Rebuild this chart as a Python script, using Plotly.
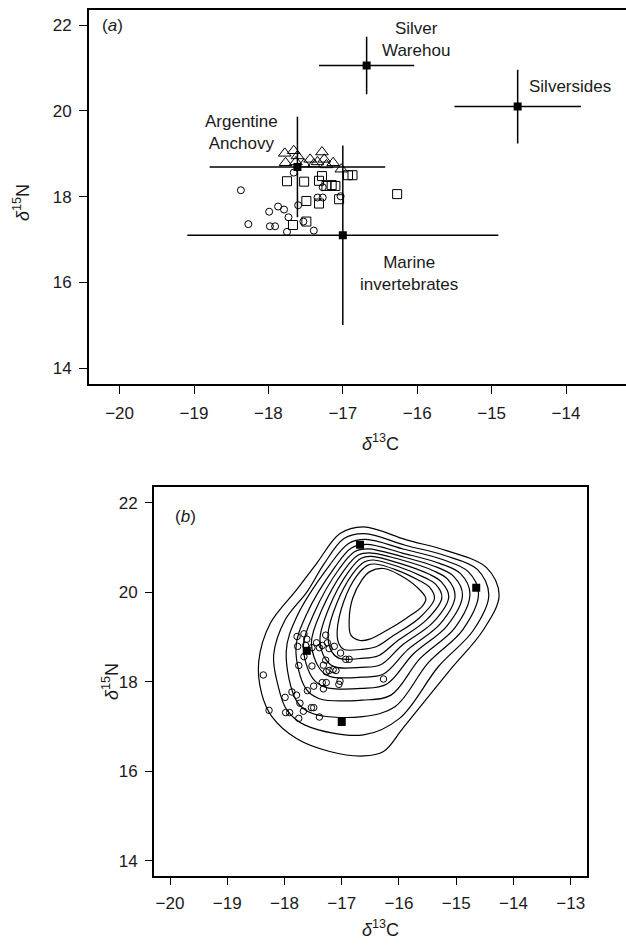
import plotly.graph_objects as go

# ---------------- data ----------------
# source means (filled squares) and their SD (cross bars)
src_names = ["Silver<br>Warehou", "Silversides", "Argentine<br>Anchovy", "Marine<br>invertebrates"]
src_d13c = [-16.68, -14.65, -17.61, -17.00]
src_d15n = [21.06, 20.10, 18.69, 17.10]
src_sd13c = [0.64, 0.85, 1.18, 2.09]
src_sd15n = [0.67, 0.86, 1.17, 2.09]

# consumers, three groups (panel a symbols)
tri_d13c = [-17.78, -17.66, -17.61, -17.77, -17.63, -17.52, -17.44, -17.39, -17.28, -17.25, -17.22, -17.13, -17.02, -17.34]
tri_d15n = [19.01, 19.07, 18.95, 18.79, 18.81, 18.76, 18.87, 18.76, 19.04, 18.87, 18.74, 18.79, 18.64, 18.81]
sq_d13c = [-17.75, -17.52, -17.32, -17.28, -17.22, -17.15, -17.10, -16.93, -16.87, -17.49, -17.32, -17.05, -17.67, -17.49, -16.27]
sq_d15n = [18.36, 18.35, 18.37, 18.48, 18.25, 18.27, 18.25, 18.50, 18.50, 17.90, 17.84, 17.94, 17.34, 17.42, 18.06]
circ_d13c = [-18.37, -18.27, -17.99, -17.87, -17.79, -17.73, -17.98, -17.91, -17.75, -17.66, -17.60, -17.53, -17.39, -17.34, -17.27, -17.27, -17.03]
circ_d15n = [18.15, 17.36, 17.65, 17.77, 17.70, 17.52, 17.31, 17.31, 17.18, 18.56, 17.80, 17.42, 17.21, 17.98, 17.98, 18.22, 18.01]

# density contours of panel b (outer -> inner)
contour_x = [
    [-16.62, -15.87, -15.17, -14.47, -14.25, -14.53, -15.11, -15.92, -16.27, -16.62, -17.21, -17.79, -18.22, -18.40, -18.45, -18.25, -17.79, -17.44, -17.03],
    [-16.60, -15.89, -15.20, -14.63, -14.43, -14.70, -15.31, -15.99, -16.62, -17.64, -17.96, -18.12, -18.19, -17.99, -17.60, -17.32, -16.96],
    [-16.58, -15.91, -15.24, -14.79, -14.61, -14.88, -15.49, -16.07, -16.64, -17.51, -17.78, -17.97, -17.79, -17.22, -16.88],
    [-16.56, -15.94, -15.28, -14.92, -14.76, -15.02, -15.63, -16.14, -16.64, -17.39, -17.63, -17.80, -17.62, -17.12, -16.83],
    [-16.54, -15.96, -15.34, -15.04, -14.89, -15.16, -15.75, -16.21, -16.65, -17.29, -17.51, -17.67, -17.48, -17.04, -16.77],
    [-16.51, -15.98, -15.40, -15.15, -15.02, -15.28, -15.85, -16.27, -16.65, -17.21, -17.39, -17.53, -17.35, -16.96, -16.71],
    [-16.48, -16.00, -15.47, -15.26, -15.13, -15.40, -15.95, -16.32, -16.66, -17.12, -17.28, -17.38, -17.22, -16.88, -16.66],
    [-16.45, -16.03, -15.54, -15.36, -15.25, -15.52, -16.04, -16.36, -16.66, -17.04, -17.17, -17.24, -17.09, -16.81, -16.60],
    [-16.42, -16.05, -15.63, -15.47, -15.38, -15.64, -16.12, -16.40, -16.67, -16.96, -17.05, -17.08, -16.96, -16.74, -16.55],
    [-16.51, -16.27, -15.98, -15.69, -15.53, -15.59, -15.87, -16.21, -16.51, -16.68, -16.84, -16.87, -16.81, -16.65],
]
contour_y = [
    [21.46, 21.17, 20.93, 20.55, 19.94, 19.15, 18.26, 16.98, 16.44, 16.34, 16.44, 16.73, 17.22, 17.74, 18.45, 19.30, 20.05, 20.64, 21.31],
    [21.31, 21.05, 20.82, 20.51, 19.94, 19.15, 18.34, 17.18, 16.81, 17.03, 17.37, 17.95, 18.59, 19.38, 20.02, 20.61, 21.20],
    [21.18, 20.96, 20.73, 20.46, 19.97, 19.17, 18.42, 17.44, 17.22, 17.29, 17.55, 18.67, 19.44, 20.59, 21.09],
    [21.07, 20.875, 20.64, 20.41, 19.96, 19.21, 18.52, 17.70, 17.59, 17.62, 17.85, 18.75, 19.49, 20.56, 20.99],
    [20.97, 20.80, 20.56, 20.35, 19.94, 19.25, 18.62, 17.95, 17.85, 17.88, 18.08, 18.80, 19.54, 20.53, 20.91],
    [20.88, 20.73, 20.48, 20.29, 19.91, 19.29, 18.71, 18.17, 18.10, 18.12, 18.30, 18.87, 19.60, 20.49, 20.83],
    [20.80, 20.65, 20.40, 20.23, 19.90, 19.33, 18.81, 18.38, 18.32, 18.33, 18.50, 18.95, 19.66, 20.46, 20.76],
    [20.72, 20.58, 20.32, 20.18, 19.88, 19.38, 18.90, 18.58, 18.52, 18.52, 18.66, 19.03, 19.74, 20.41, 20.68],
    [20.63, 20.50, 20.25, 20.12, 19.86, 19.43, 19.01, 18.78, 18.72, 18.72, 18.85, 19.12, 19.81, 20.36, 20.60],
    [20.46, 20.53, 20.38, 20.12, 19.86, 19.69, 19.42, 19.15, 18.95, 18.92, 19.04, 19.38, 19.86, 20.27],
]

xticks_a = [-20, -19, -18, -17, -16, -15, -14]
xticks_b = [-20, -19, -18, -17, -16, -15, -14, -13]
yticks = [14, 16, 18, 20, 22]

# ---------------- figure ----------------
FONT = "Liberation Sans, Arial, sans-serif"
TXT = "#1a1a1a"
fig = go.Figure()

# panel a: consumers
fig.add_trace(go.Scatter(x=circ_d13c, y=circ_d15n, mode="markers", xaxis="x", yaxis="y",
                         marker=dict(symbol="circle-open", size=7, color="black", line=dict(width=1)),
                         showlegend=False))
fig.add_trace(go.Scatter(x=sq_d13c, y=sq_d15n, mode="markers", xaxis="x", yaxis="y",
                         marker=dict(symbol="square-open", size=9, color="black", line=dict(width=1)),
                         showlegend=False))
fig.add_trace(go.Scatter(x=tri_d13c, y=tri_d15n, mode="markers", xaxis="x", yaxis="y",
                         marker=dict(symbol="triangle-up-open", size=11, color="black", line=dict(width=1)),
                         showlegend=False))
# panel a: sources with SD crosses
fig.add_trace(go.Scatter(x=src_d13c, y=src_d15n, mode="markers", xaxis="x", yaxis="y",
                         error_x=dict(type="data", array=src_sd13c, width=0, thickness=1.5, color="black"),
                         error_y=dict(type="data", array=src_sd15n, width=0, thickness=1.5, color="black"),
                         marker=dict(symbol="square", size=8, color="black"),
                         showlegend=False))

# panel b: contours
for cx, cy in zip(contour_x, contour_y):
    fig.add_trace(go.Scatter(x=cx + [cx[0]], y=cy + [cy[0]], mode="lines", xaxis="x2", yaxis="y2",
                             line=dict(color="black", width=1.2, shape="spline", smoothing=1.0),
                             showlegend=False, hoverinfo="skip"))
# panel b: all consumers as circles
fig.add_trace(go.Scatter(x=circ_d13c + sq_d13c + tri_d13c, y=circ_d15n + sq_d15n + tri_d15n,
                         mode="markers", xaxis="x2", yaxis="y2",
                         marker=dict(symbol="circle-open", size=6.5, color="black", line=dict(width=1)),
                         showlegend=False))
fig.add_trace(go.Scatter(x=src_d13c, y=src_d15n, mode="markers", xaxis="x2", yaxis="y2",
                         marker=dict(symbol="square", size=8, color="black"),
                         showlegend=False))

axis_common = dict(showline=True, linewidth=2, linecolor="black", ticks="outside", ticklen=8,
                   tickwidth=1, tickcolor="black", showgrid=False, zeroline=False,
                   tickfont=dict(family=FONT, size=17, color=TXT), ticklabelstandoff=4)

def minus(v):
    return str(v).replace("-", "\u2212")

fig.update_layout(
    width=626, height=947, autosize=False,
    margin=dict(l=0, r=0, t=0, b=0),
    paper_bgcolor="white", plot_bgcolor="white",
    font=dict(family=FONT, size=17, color=TXT),
    xaxis=dict(domain=[0.1422, 1.0], range=[-20.411, -13.194], anchor="y", mirror=True,
               tickvals=xticks_a, ticktext=[minus(v) for v in xticks_a], **axis_common),
    yaxis=dict(domain=[0.5942, 0.9894], range=[13.627, 22.35], anchor="x", mirror=False,
               tickvals=yticks, ticktext=[str(v) for v in yticks], **axis_common),
    xaxis2=dict(domain=[0.2460, 0.9372], range=[-20.28, -12.72], anchor="y2", mirror=True,
                tickvals=xticks_b, ticktext=[minus(v) for v in xticks_b], **dict(axis_common, ticklen=7)),
    yaxis2=dict(domain=[0.0750, 0.4854], range=[13.658, 22.344], anchor="x2", mirror=True,
                tickvals=yticks, ticktext=[str(v) for v in yticks], **dict(axis_common, ticklen=7)),
)

# source labels (panel a)
lbl_pos = [(-16.02, 21.67, "center"), (-14.53, 20.56, "left"), (-18.355, 19.49, "center"), (-16.11, 16.22, "center")]
for name, (lx, ly, anc) in zip(src_names, lbl_pos):
    fig.add_annotation(x=lx, y=ly, xref="x", yref="y", text=name, showarrow=False,
                       xanchor=anc, yanchor="middle", align="center",
                       font=dict(family=FONT, size=17, color=TXT))

# panel labels
fig.add_annotation(x=-20.27, y=22.0, xref="x", yref="y", text="(<i>a</i>)", showarrow=False,
                   xanchor="left", yanchor="middle", font=dict(family=FONT, size=17, color=TXT))
fig.add_annotation(x=-19.95, y=21.70, xref="x2", yref="y2", text="(<i>b</i>)", showarrow=False,
                   xanchor="left", yanchor="middle", font=dict(family=FONT, size=17, color=TXT))

# axis titles
ytitle = "<i>δ</i><sup>15</sup>N"
xtitle = "<i>δ</i><sup>13</sup>C"
for (px, py, t, ang) in [(21, 203, ytitle, -90), (380, 443, xtitle, 0),
                         (110, 682, ytitle, -90), (380, 928, xtitle, 0)]:
    fig.add_annotation(x=px / 626, y=1 - py / 947, xref="paper", yref="paper", text=t,
                       showarrow=False, textangle=ang, xanchor="center", yanchor="middle",
                       font=dict(family=FONT, size=18, color=TXT))

fig.write_html("out.html",
               config={"displayModeBar": False},
               post_script="document.body.style.margin='0px';"
                           "document.body.style.overflow='hidden';"
                           "document.documentElement.style.overflow='hidden';")
